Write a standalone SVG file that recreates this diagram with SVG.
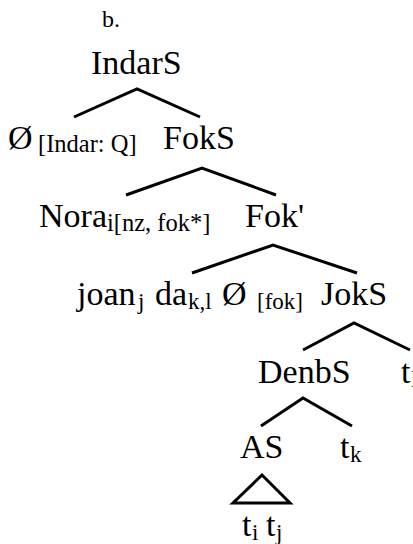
<svg xmlns="http://www.w3.org/2000/svg" width="413" height="544" viewBox="0 0 413 544" font-family="'Liberation Serif', 'DejaVu Serif', serif">
<style>
text{font-family:'Liberation Serif','DejaVu Serif',serif;fill:#000}
.m{font-size:34px}
.s{font-size:23px}
.b{font-size:24.5px}
</style>
<rect width="413" height="544" fill="#fff"/>
<g id="label"><text x="102" y="27" font-size="24">b.</text></g>
<g id="IndarS"><text class="m" x="91" y="74">IndarS</text></g>
<g id="Null1"><text class="m" x="8" y="149">Ø</text><text class="b" x="38" y="152">[Indar: Q]</text></g>
<g id="FokS"><text class="m" x="163" y="149">FokS</text></g>
<g id="Nora"><text class="m" x="39" y="227">Nora</text><text class="b" x="107" y="231">i[nz, fok*]</text></g>
<g id="FokBar"><text class="m" x="245" y="227">Fok'</text></g>
<g id="joan"><text class="m" x="77" y="305">joan</text><text class="s" x="138" y="309">j</text><text class="m" x="155" y="305">da</text><text class="s" x="188" y="309">k,l</text><text class="m" x="222" y="305">Ø</text><text class="s" x="257" y="309">[fok]</text></g>
<g id="JokS"><text class="m" x="321" y="305">JokS</text></g>
<g id="DenbS"><text class="m" x="258" y="383">DenbS</text></g>
<g id="tl"><text class="m" x="401" y="383">t</text><text class="s" x="411" y="387">l</text></g>
<g id="AS"><text class="m" x="240" y="458">AS</text></g>
<g id="tk"><text class="m" x="340" y="458">t</text><text class="s" x="350" y="462">k</text></g>
<g id="titj"><text class="m" x="242" y="536">t</text><text class="s" x="252" y="540">i</text><text class="m" x="266" y="536">t</text><text class="s" x="276" y="540">j</text></g>
<g id="edges" fill="none" stroke="#000" stroke-width="3">
<polyline points="74,117 137,89 200,117"/>
<polyline points="126,195 202,168 276,195"/>
<polyline points="192,273 273,245 357,273"/>
<polyline points="303,350 354,323 410,350"/>
<polyline points="261,426 303,398 352,426"/>
<polygon points="262,475 233,503 290,503"/>
</g>
</svg>
